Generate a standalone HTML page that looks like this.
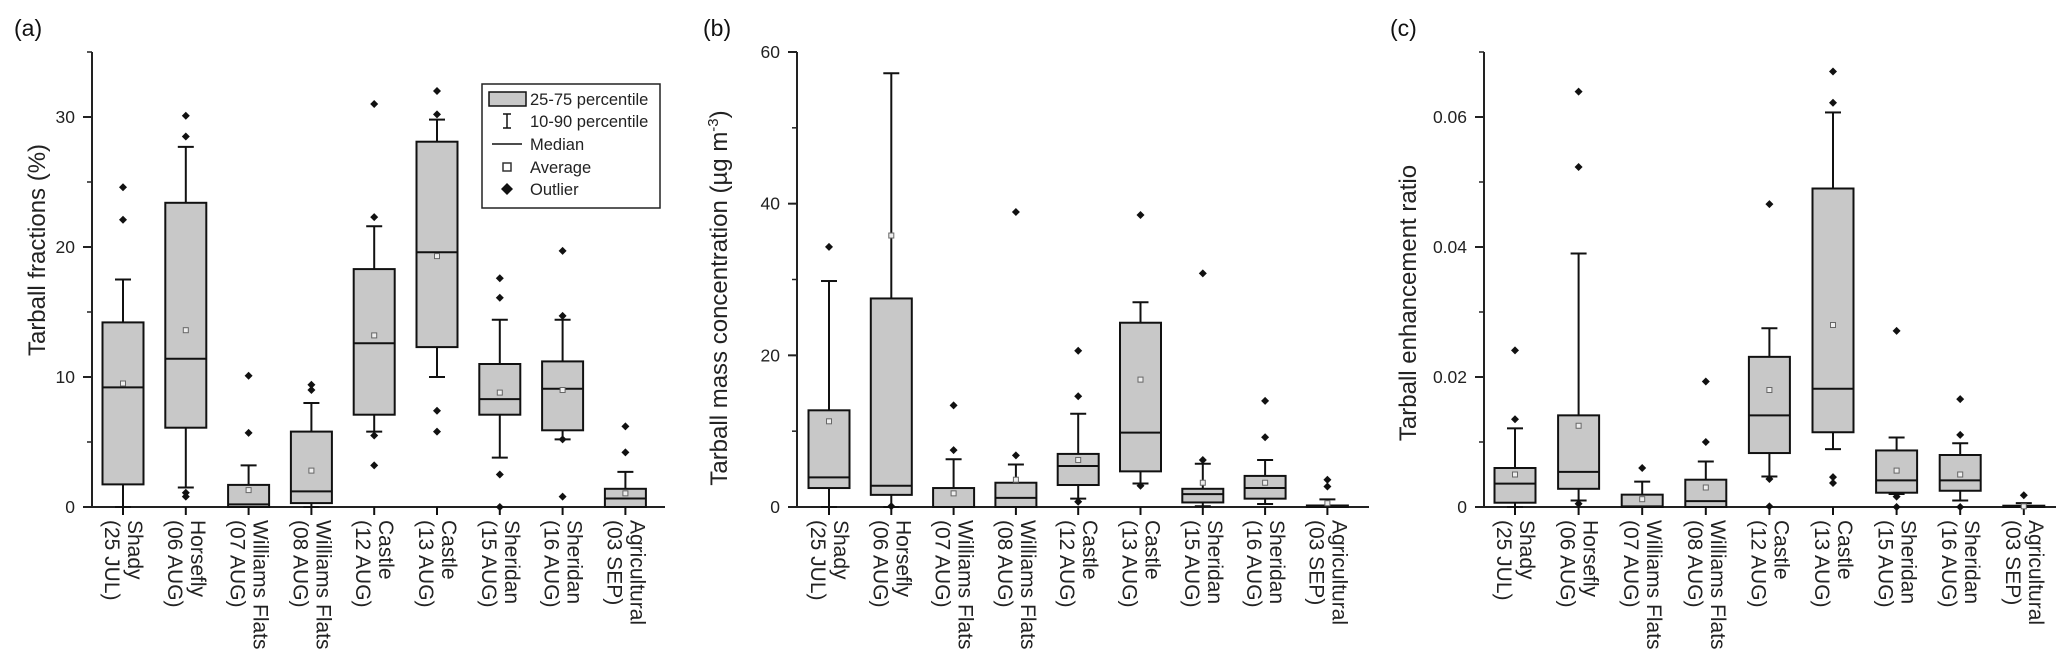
<!DOCTYPE html>
<html><head><meta charset="utf-8"><style>
html,body{margin:0;padding:0;background:#fff;}
svg{display:block;font-family:"Liberation Sans",Arial,sans-serif;}
</style></head><body>
<svg id="fig" width="2067" height="667" viewBox="0 0 2067 667" xmlns="http://www.w3.org/2000/svg"></svg>
<script>
const categories = [["Shady","(25 JUL)"],["Horsefly","(06 AUG)"],["Williams Flats","(07 AUG)"],["Williams Flats","(08 AUG)"],["Castle","(12 AUG)"],["Castle","(13 AUG)"],["Sheridan","(15 AUG)"],["Sheridan","(16 AUG)"],["Agricultural","(03 SEP)"]];
// panel (a) Tarball fractions (%)
const aQ1 = [1.74,6.1,0,0.3,7.1,12.3,7.1,5.9,0];
const aQ3 = [14.2,23.4,1.7,5.8,18.3,28.1,11.0,11.2,1.4];
const aMed = [9.2,11.4,0.2,1.2,12.6,19.6,8.3,9.1,0.65];
const aMean = [9.5,13.6,1.3,2.8,13.2,19.3,8.8,9.0,1.05];
const aWLo = [0,1.5,0,0,5.8,10.0,3.8,5.2,0];
const aWHi = [17.5,27.7,3.2,8.0,21.6,29.8,14.4,14.4,2.7];
const aOut = [[24.6,22.1],[30.1,28.5,1.1,0.8],[10.1,5.7],[9.4,9.0],[31.0,22.3,5.5,3.2],[32.0,30.2,7.4,5.8],[17.6,16.1,2.5,0],[19.7,14.7,5.2,0.8],[6.2,4.2]];
const aTicks = [0,10,20,30];
// panel (b) Tarball mass concentration
const bQ1 = [2.5,1.6,0,0,2.9,4.7,0.6,1.1,0];
const bQ3 = [12.75,27.5,2.5,3.2,7.0,24.3,2.4,4.1,0.2];
const bMed = [3.9,2.8,0,1.2,5.4,9.8,1.7,2.5,0.1];
const bMean = [11.3,35.8,1.8,3.6,6.2,16.8,3.2,3.2,0.5];
const bWLo = [0,0,0,0,1.1,3.1,0.1,0.4,0];
const bWHi = [29.8,57.2,6.3,5.6,12.3,27.0,5.7,6.2,1.0];
const bOut = [[34.3],[0.1],[13.4,7.5],[38.9,6.8],[20.6,14.6,0.7],[38.5,2.8],[30.8,6.2],[14.0,9.2],[3.6,2.7]];
const bTicks = [0,20,40,60];
// panel (c) Tarball enhancement ratio
const cQ1 = [0.00066,0.0028,0,0,0.0083,0.0115,0.0022,0.0025,0];
const cQ3 = [0.006,0.0141,0.0019,0.0042,0.0231,0.049,0.0087,0.008,0.0002];
const cMed = [0.0036,0.0054,0.0001,0.0009,0.0141,0.0182,0.0041,0.0041,0.0001];
const cMean = [0.005,0.0125,0.0012,0.003,0.018,0.028,0.0056,0.005,0.0001];
const cWLo = [0,0.001,0,0,0.0047,0.0089,0.002,0.001,0];
const cWHi = [0.0121,0.039,0.0039,0.007,0.0275,0.0607,0.0107,0.0098,0.0006];
const cOut = [[0.0241,0.0135],[0.0639,0.0523,0.0005],[0.006],[0.0193,0.01],[0.0466,0.0043,0.0001],[0.067,0.0622,0.0046,0.0037],[0.0271,0.0016,0],[0.0166,0.0111,0],[0.0018]];
const cTicks = [0,0.02,0.04,0.06];

const NS="http://www.w3.org/2000/svg";
const svg=document.getElementById('fig');
function mk(tag,attrs,parent){const e=document.createElementNS(NS,tag);for(const k in attrs)e.setAttribute(k,attrs[k]);(parent||svg).appendChild(e);return e;}

function panel(cfg){
  const g=mk('g',{});
  
  
  const y0=507, yTop=52;
  const ys=v=>y0-(v-0)/(cfg.max)*(y0-yTop);
  const xs=i=>cfg.x0+i*cfg.step;
  const pl=mk('text',{x:cfg.labX,y:36,'font-size':23,fill:'#111'},g);pl.textContent='('+cfg.id+')';
  
  
  const ax=mk('line',{x1:cfg.ax,y1:yTop,x2:cfg.ax,y2:y0,stroke:'#222','stroke-width':2},g);
  
  
  const xa=mk('line',{x1:cfg.ax,y1:y0,x2:cfg.xEnd,y2:y0,stroke:'#222','stroke-width':2},g);
  
  
  for(let v=0;v<=cfg.max+1e-9;v+=cfg.minor){
    mk('line',{x1:cfg.ax-5,y1:ys(v),x2:cfg.ax,y2:ys(v),stroke:'#222','stroke-width':1.5},g);
  }
  cfg.ticks.forEach(t=>{
    mk('line',{x1:cfg.ax-9,y1:ys(t),x2:cfg.ax,y2:ys(t),stroke:'#222','stroke-width':2},g);
    const tl=mk('text',{x:cfg.ax-17,y:ys(t)+6,'font-size':17.5,'text-anchor':'end',fill:'#222'},g);
    tl.textContent=cfg.fmt(t);
    
    
  });
  const yt=mk('text',{x:0,y:0,'font-size':24,'text-anchor':'middle',fill:'#222',transform:`translate(${cfg.titleX},${cfg.titleY}) rotate(-90)`},g);
  yt.innerHTML=cfg.title;
  
  
  const hw=20.5;
  categories.forEach((c,i)=>{
    const x=xs(i);
    const bg=mk('g',{},g);
    
    
    mk('line',{x1:x,y1:ys(cfg.wHi[i]),x2:x,y2:ys(cfg.q3[i]),stroke:'#111','stroke-width':2},bg);
    mk('line',{x1:x,y1:ys(cfg.q1[i]),x2:x,y2:ys(cfg.wLo[i]),stroke:'#111','stroke-width':2},bg);
    mk('line',{x1:x-8,y1:ys(cfg.wHi[i]),x2:x+8,y2:ys(cfg.wHi[i]),stroke:'#111','stroke-width':2},bg);
    mk('line',{x1:x-8,y1:ys(cfg.wLo[i]),x2:x+8,y2:ys(cfg.wLo[i]),stroke:'#111','stroke-width':2},bg);
    mk('line',{x1:x,y1:y0,x2:x,y2:y0+8,stroke:'#111','stroke-width':2},bg);
    const top=ys(cfg.q3[i]),bot=ys(cfg.q1[i]);
    mk('rect',{x:x-hw,y:top,width:2*hw,height:Math.max(bot-top,0.5),fill:'#c8c8c8',stroke:'#111','stroke-width':2},bg);
    mk('line',{x1:x-hw,y1:ys(cfg.med[i]),x2:x+hw,y2:ys(cfg.med[i]),stroke:'#111','stroke-width':2},bg);
    mk('rect',{x:x-2.5,y:ys(cfg.mean[i])-2.5,width:5,height:5,fill:'#eee',stroke:'#666','stroke-width':1},bg);
    cfg.out[i].forEach(o=>{
      const y=ys(o);
      mk('path',{d:`M${x} ${y-4}L${x+4} ${y}L${x} ${y+4}L${x-4} ${y}Z`,fill:'#111'},bg);
    });
    const lab=mk('text',{x:0,y:0,'font-size':21,fill:'#222',transform:`translate(${x},520) rotate(90)`},g);
    
    
    const t1=mk('tspan',{x:0,y:-5},lab);t1.textContent=c[0];
    const t2=mk('tspan',{x:0,y:18},lab);t2.textContent=c[1];
  });
}
panel({id:'a',ax:92,xEnd:665,x0:123,step:62.8,max:35,minor:5,ticks:aTicks,fmt:t=>String(t),labX:14,
  title:'Tarball fractions (%)',titleX:45,titleY:250,
  q1:aQ1,q3:aQ3,med:aMed,mean:aMean,wLo:aWLo,wHi:aWHi,out:aOut});
panel({id:'b',ax:797,xEnd:1369,x0:829,step:62.3,max:60,minor:10,ticks:bTicks,fmt:t=>String(t),labX:703,
  title:'Tarball mass concentration (µg m<tspan dy="-9" font-size="15">-3</tspan><tspan dy="9">)</tspan>',titleX:727,titleY:298,
  q1:bQ1,q3:bQ3,med:bMed,mean:bMean,wLo:bWLo,wHi:bWHi,out:bOut});
panel({id:'c',ax:1484,xEnd:2056,x0:1515,step:63.6,max:0.07,minor:0.01,ticks:cTicks,fmt:t=>t===0?'0':t.toFixed(2),labX:1390,
  title:'Tarball enhancement ratio',titleX:1416,titleY:303,
  q1:cQ1,q3:cQ3,med:cMed,mean:cMean,wLo:cWLo,wHi:cWHi,out:cOut});

const lg=mk('g',{});


mk('rect',{x:482,y:84,width:178,height:124,fill:'#fff',stroke:'#222','stroke-width':1.5},lg);
const ly=[99,121,144,167,189];
const lt=['25-75 percentile','10-90 percentile','Median','Average','Outlier'];
mk('rect',{x:489,y:92,width:37,height:14,fill:'#c8c8c8',stroke:'#111','stroke-width':1.5},lg);
mk('line',{x1:507,y1:114,x2:507,y2:128,stroke:'#111','stroke-width':1.5},lg);
mk('line',{x1:503,y1:114,x2:511,y2:114,stroke:'#111','stroke-width':1.5},lg);
mk('line',{x1:503,y1:128,x2:511,y2:128,stroke:'#111','stroke-width':1.5},lg);
mk('line',{x1:492,y1:144,x2:522,y2:144,stroke:'#111','stroke-width':1.5},lg);
mk('rect',{x:503,y:163,width:8,height:8,fill:'#fff',stroke:'#333','stroke-width':1.5},lg);
mk('path',{d:'M507 183L513 189L507 195L501 189Z',fill:'#111'},lg);
lt.forEach((t,i)=>{
  const e=mk('text',{x:530,y:ly[i]+6,'font-size':16.5,fill:'#222'},lg);
  e.textContent=t;
  
  
});
</script>
</body></html>
